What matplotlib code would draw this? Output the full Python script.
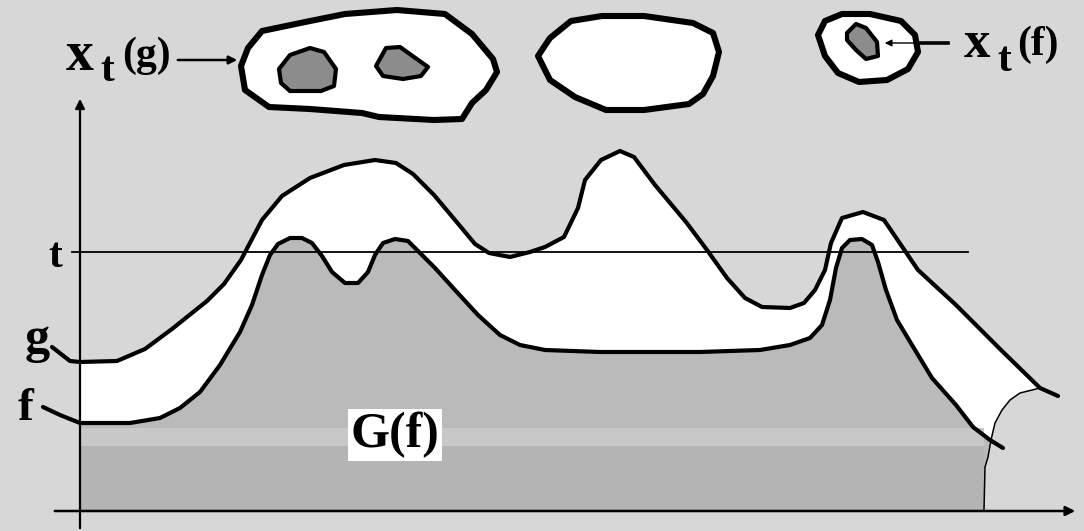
import matplotlib
matplotlib.use('Agg')
from matplotlib import pyplot as plt
from matplotlib.patches import Polygon
import numpy as np

# everything in pixel units (x right, y down)
g_x = [52, 70, 80, 117, 145, 172, 207, 224, 241, 262, 282, 310, 344, 375, 396, 413, 434, 455, 475, 489, 510,
       530, 545, 564, 578, 585, 601, 620, 634, 655, 686, 707, 727, 745, 762, 790, 804, 815, 825, 831, 842, 863,
       884, 901, 918, 956, 1001, 1040, 1058]
g_y = [347, 361, 362, 361, 349, 329, 301, 284, 260, 220, 196, 178, 165, 160, 163, 174, 195, 220, 244, 253, 257,
       252, 247, 237, 208, 180, 160, 151, 157, 185, 222, 250, 278, 298, 307, 308, 303, 290, 270, 243, 218, 212,
       220, 245, 270, 305, 350, 388, 396]

f_x = [43, 60, 80, 130, 160, 180, 200, 220, 240, 252, 262, 270, 278, 290, 302, 312, 322, 332, 345, 358, 368,
       375, 383, 395, 408, 420, 435, 455, 478, 500, 520, 545, 600, 700, 760, 790, 810, 822, 830, 836, 842, 850,
       862, 872, 878, 886, 897, 912, 932, 956, 973, 990, 1003]
f_y = [407, 415, 423, 423, 418, 408, 392, 365, 332, 305, 275, 255, 244, 238, 238, 243, 256, 272, 283, 283, 272,
       255, 243, 239, 241, 253, 268, 290, 315, 335, 345, 350, 352, 352, 350, 345, 338, 325, 300, 268, 248, 240,
       239, 245, 262, 290, 320, 345, 378, 405, 427, 440, 448]

# thin line closing the white part on the right
edge_x = [1040, 1020, 1010, 1002, 995, 991, 988, 985, 984]
edge_y = [388, 393, 400, 410, 423, 440, 457, 467, 510]

# the three sets at the top
blob_g = [(241, 66), (248, 48), (262, 31), (310, 21), (345, 14), (397, 10), (445, 14), (472, 34), (493, 59),
          (497, 72), (486, 90), (472, 103), (462, 119), (434, 120), (379, 117), (362, 113), (310, 109),
          (269, 107), (245, 90)]
hole_g1 = [(279, 69), (290, 55), (310, 48), (324, 52), (336, 69), (334, 86), (321, 91), (290, 91), (281, 83)]
hole_g2 = [(376, 66), (386, 48), (400, 47), (414, 57), (428, 67), (421, 76), (403, 79), (383, 76)]
blob_mid = [(538, 56), (550, 38), (571, 21), (602, 16), (644, 16), (693, 23), (713, 33), (719, 52), (713, 76),
            (703, 94), (689, 104), (644, 110), (606, 110), (575, 97), (550, 80)]
blob_f = [(818, 35), (825, 21), (842, 14), (870, 14), (901, 21), (915, 35), (918, 52), (908, 69), (887, 80),
          (859, 82), (838, 73), (825, 56)]
hole_f = [(847, 33), (856, 24), (866, 28), (877, 42), (878, 56), (866, 59), (856, 50), (847, 40)]

t_level = 252
axis_x0 = 80
axis_y0 = 511

bg = '#d7d7d7'
serif = ['Liberation Serif', 'DejaVu Serif']

fig = plt.figure(figsize=(10.84, 5.31), dpi=100)
fig.patch.set_facecolor(bg)
ax = fig.add_axes([0, 0, 1, 1])
ax.set_xlim(0, 1084)
ax.set_ylim(531, 0)
ax.axis('off')

gx, gy = np.array(g_x), np.array(g_y)
fx, fy = np.array(f_x), np.array(f_y)

# white region under g (from the axis on)
m = gx >= axis_x0
k = (fx >= axis_x0) & (fx <= 990)
white = list(zip(gx[m], gy[m])) + list(zip(edge_x[:6], edge_y[:6])) + list(zip(fx[k][::-1], fy[k][::-1]))
ax.add_patch(Polygon(white, closed=True, facecolor='white', edgecolor='none', zorder=1))

# stippled region under f
stip = list(zip(fx[k], fy[k])) + list(zip(edge_x[6:], edge_y[6:])) + [(axis_x0, axis_y0)]
ax.add_patch(Polygon(stip, closed=True, facecolor='#bababa', edgecolor='none', zorder=2))
ax.fill_between([axis_x0, 984], 428, 446, color='#c8c8c8', lw=0, zorder=2)
ax.fill_between([axis_x0, 984], 446, axis_y0, color='#b4b4b4', lw=0, zorder=2)

ax.plot(edge_x, edge_y, color='black', lw=1.1, zorder=3)
ax.plot(g_x, g_y, color='black', lw=3, solid_capstyle='round', solid_joinstyle='round', zorder=4)
ax.plot(f_x, f_y, color='black', lw=3, solid_capstyle='round', solid_joinstyle='round', zorder=4)

# level line t
ax.plot([72, 968], [t_level, t_level], color='black', lw=1.3, zorder=5)

# axes with arrows
ax.annotate('', xy=(axis_x0, 96), xytext=(axis_x0, 531),
            arrowprops=dict(arrowstyle='-|>', color='black', lw=1.6, mutation_scale=14), zorder=5)
ax.annotate('', xy=(1078, axis_y0), xytext=(52, axis_y0),
            arrowprops=dict(arrowstyle='-|>', color='black', lw=1.8, mutation_scale=14), zorder=5)

# sets at the top
for pts in [blob_g, blob_mid, blob_f]:
    ax.add_patch(Polygon(pts, closed=True, facecolor='white', edgecolor='black', lw=4.4,
                         joinstyle='round', zorder=3))
for pts in [hole_g1, hole_g2, hole_f]:
    ax.add_patch(Polygon(pts, closed=True, facecolor='#8c8c8c', edgecolor='black', lw=3,
                         joinstyle='round', zorder=4))

# arrows to the sets
ax.annotate('', xy=(240, 60), xytext=(175, 60),
            arrowprops=dict(arrowstyle='-|>', color='black', lw=1.8, mutation_scale=12))
ax.plot([917, 948], [43, 43], color='black', lw=2.6)
ax.annotate('', xy=(882, 43), xytext=(918, 43),
            arrowprops=dict(arrowstyle='-|>', color='black', lw=1.0, mutation_scale=10), zorder=6)

# labels
tk = dict(family=serif, weight='bold', color='black')
ax.text(80, 70, 'x', fontsize=40, ha='center', va='baseline', **tk)
ax.text(107, 81, 't', fontsize=30, ha='center', va='baseline', **tk)
ax.text(146, 66, '(g)', fontsize=30, ha='center', va='baseline', **tk)
ax.text(977, 57, 'x', fontsize=38, ha='center', va='baseline', **tk)
ax.text(1004, 71, 't', fontsize=30, ha='center', va='baseline', **tk)
ax.text(1038, 55, '(f)', fontsize=30, ha='center', va='baseline', **tk)

ax.text(55, 267, 't', fontsize=30, ha='center', va='baseline', **tk)
ax.text(37, 352, 'g', fontsize=36, ha='center', va='baseline', **tk)
ax.text(26, 420, 'f', fontsize=34, ha='center', va='baseline', **tk)
ax.text(395, 447, 'G(f)', fontsize=36, ha='center', va='baseline', zorder=6,
        bbox=dict(facecolor='white', edgecolor='none', pad=2), **tk)

fig.savefig('out.png', dpi=100, facecolor=bg)
